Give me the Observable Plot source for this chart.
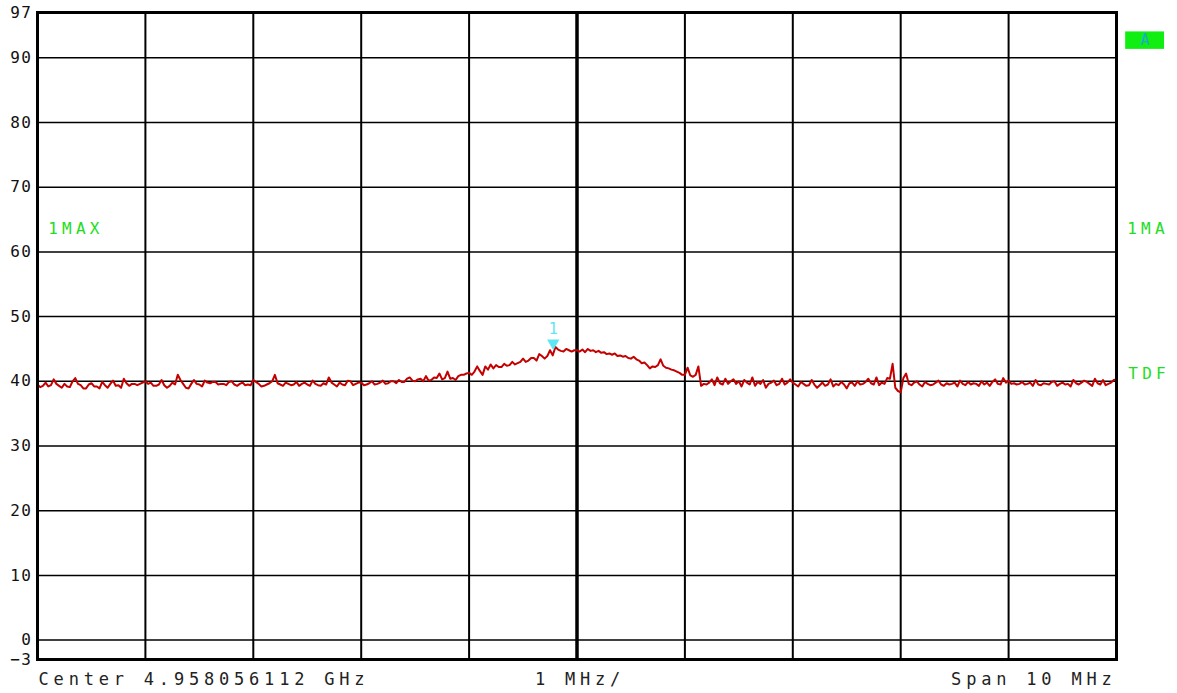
<!DOCTYPE html>
<html><head><meta charset="utf-8">
<script src="https://cdn.jsdelivr.net/npm/d3@7"></script>
<script src="https://cdn.jsdelivr.net/npm/@observablehq/plot@0.6"></script>
<style>
body{margin:0;background:#fff;}
g[aria-label="y-axis tick label"] text{letter-spacing:1.5px;}
g[aria-description="footer"] text{letter-spacing:4.8px;}
g[aria-description="status"] text{letter-spacing:4.2px;}
</style>
</head><body><div id="chart"></div>
<script>
// Trace levels (dB), one per sweep point, 0.025 MHz apart, from -5 MHz to +5 MHz around center
const startMHz = -5;
const stepMHz = 0.025;
const levels = [
  39.5,39.1,39.3,39.8,39.2,39.4,40.3,39.6,39.3,39.0,39.6,39.2,39.1,40.0,40.5,39.6,39.4,38.9,38.9,39.5,39.7,39.2,39.2,38.9,39.9,39.4,39.0,39.6,40.1,39.3,39.4,39.0,40.4,39.7,39.3,39.6,39.6,39.4,39.6,39.8,
  40.0,39.6,39.8,39.3,39.3,39.5,40.2,39.4,39.0,39.3,39.8,39.5,41.0,40.2,39.6,39.0,38.9,39.6,40.2,39.6,39.5,39.2,40.1,39.8,39.7,39.9,39.9,39.5,39.6,39.6,39.4,39.9,40.0,39.5,39.3,39.6,39.8,39.4,39.5,39.4,
  40.2,39.9,39.6,39.2,39.3,39.5,39.7,40.0,41.0,39.7,39.5,39.3,39.8,39.6,39.4,39.5,39.9,39.3,39.6,39.8,39.5,39.3,40.1,39.6,39.4,39.3,39.7,39.5,40.6,39.8,39.5,39.2,39.8,39.5,39.4,40.1,40.0,39.4,39.6,39.8,
  39.8,39.4,39.5,39.7,40.0,39.5,39.6,39.8,40.1,39.6,39.7,40.0,40.0,39.7,40.2,39.9,39.9,40.4,40.6,40.1,40.0,40.3,40.4,40.0,40.8,40.1,40.2,40.6,40.5,41.2,40.3,40.5,41.5,40.4,40.5,40.2,40.8,41.0,41.0,41.2,
  41.3,41.0,41.5,42.3,41.6,41.0,42.3,41.8,42.6,42.0,42.5,42.2,42.2,42.7,42.4,42.5,43.0,42.6,42.8,43.0,43.5,43.0,43.2,43.6,43.6,43.2,44.2,43.9,43.5,43.9,44.8,44.0,45.3,44.9,44.7,44.6,45.0,44.8,44.6,44.8,
  44.8,44.6,44.9,44.5,45.0,44.7,44.8,44.5,44.7,44.4,44.5,44.2,44.3,44.1,44.3,43.9,44.0,43.8,43.9,43.6,43.5,43.8,43.4,43.2,42.8,42.9,42.5,42.0,42.3,42.2,42.5,43.4,42.4,42.1,42.0,41.8,41.7,41.5,41.3,41.0,
  41.0,42.1,40.9,40.7,41.0,42.3,39.3,39.6,39.5,39.8,40.3,39.4,40.6,39.7,39.5,40.4,39.6,40.0,40.3,39.6,40.0,39.2,40.2,39.8,39.5,40.6,39.3,39.9,39.6,40.2,39.0,39.6,39.8,40.1,39.4,39.6,40.4,39.5,39.8,40.3,
  39.8,39.5,39.2,39.9,39.6,39.3,39.4,40.2,39.5,39.0,39.4,39.8,39.3,39.5,40.3,39.2,39.6,39.4,39.9,39.5,38.9,39.7,39.8,39.3,40.0,39.5,39.6,39.9,40.4,39.7,39.5,40.6,39.4,39.8,39.6,40.5,40.4,42.7,39.0,38.5,
  38.3,40.5,41.2,39.6,39.4,39.8,40.0,39.5,39.2,39.9,39.6,39.4,39.5,39.8,40.1,39.5,39.3,39.7,39.5,39.6,39.8,39.2,40.1,39.6,39.4,39.9,39.5,39.7,39.6,39.3,40.0,39.5,39.8,39.3,39.9,40.3,39.6,39.5,40.5,39.8,
  40.1,39.6,39.7,39.5,39.6,39.9,39.5,39.6,39.8,39.3,40.2,39.5,39.4,39.7,39.6,39.5,39.9,40.0,39.3,39.6,39.8,39.5,39.6,39.2,40.2,39.7,39.5,39.8,40.1,39.9,39.6,39.3,40.4,39.7,39.5,40.2,39.4,39.6,39.8,40.2,
  40.3
];
const yTicks = [97, 90, 80, 70, 60, 50, 40, 30, 20, 10, 0, -3];
const gridY = [0, 10, 20, 30, 40, 50, 60, 70, 80, 90];
const gridX = [-4, -3, -2, -1, 1, 2, 3, 4];
const centerX = [0];
const marker = [{label: "1", f: -0.22, level: 45.3}];
const statusLabels = [
  {text: "1MAX", f: -4.9, level: 63.5},
  {text: "1MA", f: 5.1, level: 63.5},
  {text: "TDF", f: 5.11, level: 41.2}
];
const badge = [{text: "A", f1: 5.085, f2: 5.445, l1: 91.3, l2: 94.0}];
const footerLeft = [{text: "Center 4.958056112 GHz", f: -4.99}];
const footerMid = [{text: "1 MHz/", f: -0.39}];
const footerRight = [{text: "Span 10 MHz", f: 5.0}];
const footerLevel = -6.1;

const trace = levels.map((v, i) => ({f: startMHz + i * stepMHz, level: v}));
const footerStyle = {y: () => footerLevel, text: "text", fill: "#222", fontSize: 17, ariaDescription: "footer"};

const chart = Plot.plot({
  width: 1177, height: 693,
  marginLeft: 37, marginRight: 61, marginTop: 12, marginBottom: 34,
  x: {domain: [-5, 5], axis: null},
  y: {domain: [-3, 97], axis: null},
  style: {fontFamily: "DejaVu Sans Mono", background: "#fff", color: "#000"},
  marks: [
    Plot.ruleY(gridY, {stroke: "#000", strokeWidth: 1.5}),
    Plot.ruleX(gridX, {stroke: "#000", strokeWidth: 2}),
    Plot.ruleX(centerX, {stroke: "#000", strokeWidth: 3.5}),
    Plot.line(trace, {x: "f", y: "level", stroke: "#c40000", strokeWidth: 2}),
    Plot.frame({stroke: "#000", strokeWidth: 3}),
    Plot.axisY({ticks: yTicks, tickSize: 0, tickPadding: 5, fontSize: 16, fill: "#111", label: null}),
    Plot.dot(marker, {x: "f", y: "level", symbol: "triangle", rotate: 180, r: 4.6, fill: "#5ee6f2", stroke: "none", dy: -4}),
    Plot.text(marker, {x: "f", y: "level", text: "label", fill: "#5ee6f2", fontSize: 15, dy: -18}),
    Plot.text(statusLabels, {x: "f", y: "level", text: "text", textAnchor: "start", fill: "#22dd22", fontSize: 16, ariaDescription: "status"}),
    Plot.rect(badge, {x1: "f1", x2: "f2", y1: "l1", y2: "l2", fill: "#11ee11"}),
    Plot.text(badge, {x: d => (d.f1 + d.f2) / 2, y: d => (d.l1 + d.l2) / 2, text: "text", fill: "#1fa6d8", fontSize: 15}),
    Plot.text(footerLeft, {...footerStyle, x: "f", textAnchor: "start"}),
    Plot.text(footerMid, {...footerStyle, x: "f", textAnchor: "start"}),
    Plot.text(footerRight, {...footerStyle, x: "f", textAnchor: "end"})
  ]
});
document.getElementById("chart").appendChild(chart);
</script>
</body></html>
